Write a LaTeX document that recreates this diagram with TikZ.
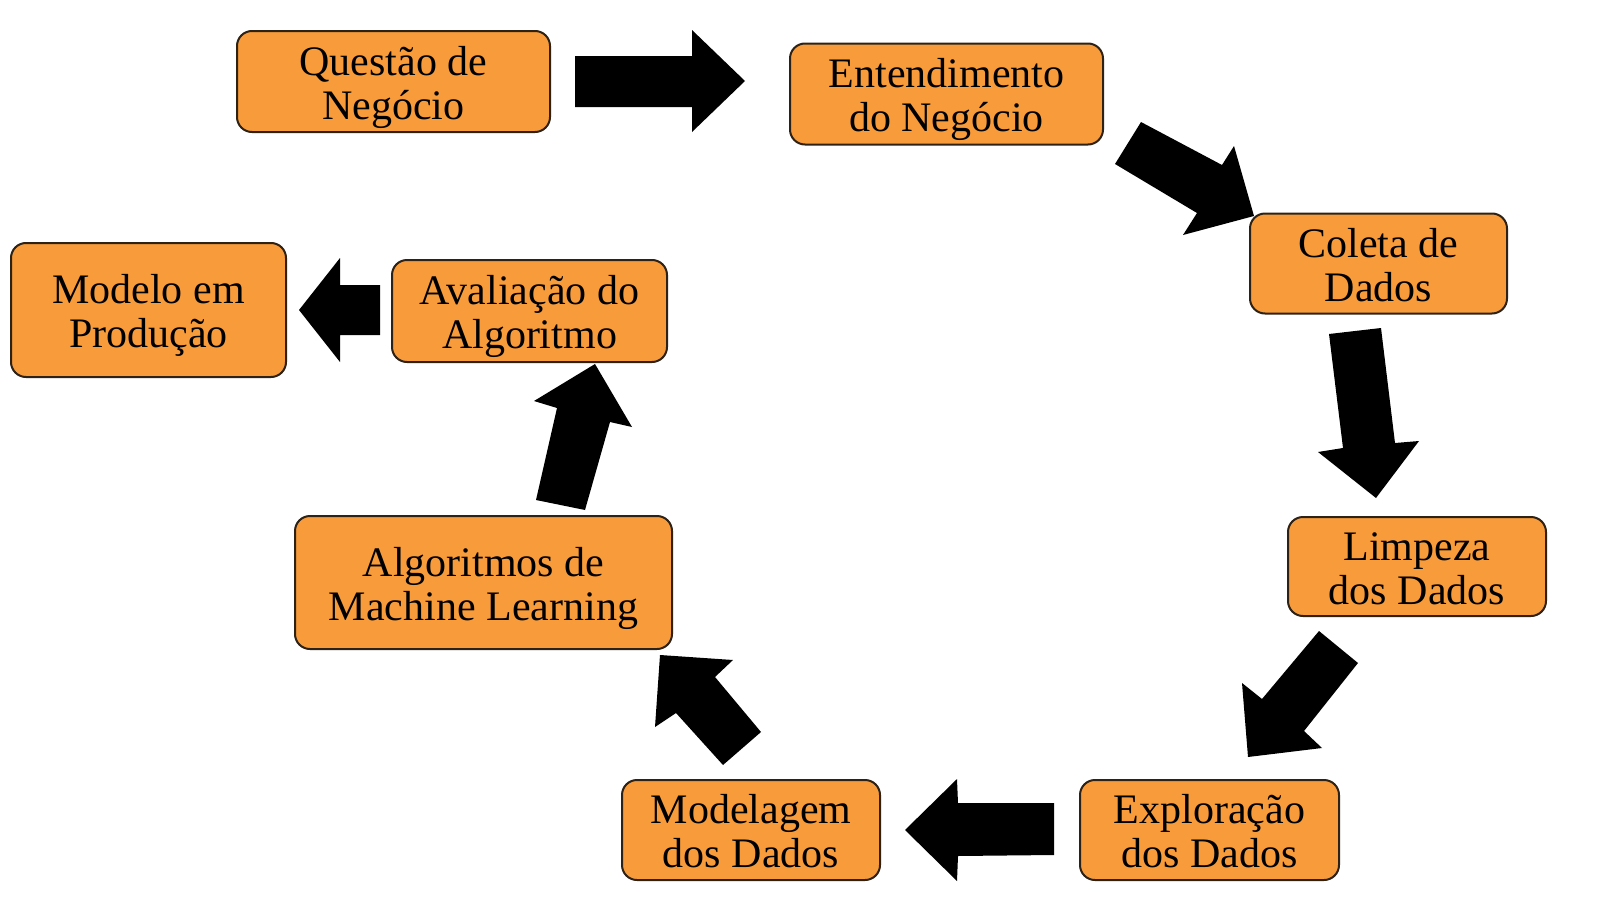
\documentclass[tikz,border=0pt]{standalone}
\usepackage{fontspec}
\setmainfont{Liberation Serif}
\definecolor{boxfill}{HTML}{F89B3B}
\definecolor{boxline}{HTML}{2E2216}
\newcommand{\ttop}{\rule{0pt}{41pt}}
\newcommand{\tbot}{\rule[-10pt]{0pt}{10pt}}
\begin{document}
\begin{tikzpicture}[x=1pt,y=-1pt,
  stepbox/.style={draw=boxline, fill=boxfill, line width=2pt, rounded corners=15pt,
    inner sep=0pt, align=center, font=\fontsize{42}{44}\selectfont},
  blockarrow/.style={fill=black, draw=none}]
\useasboundingbox[fill=white] (0,0) rectangle (1599,918);

\node[stepbox, minimum width=313pt, minimum height=101pt] (q) at (393.5,81.5) {\ttop Questão de\\Negócio\tbot};
\node[stepbox, minimum width=313pt, minimum height=101pt] (e) at (946.5,94) {\ttop Entendimento\\do Negócio\tbot};
\node[stepbox, minimum width=257pt, minimum height=100pt] (c) at (1378.5,263.5) {\ttop Coleta de\\Dados\tbot};
\node[stepbox, minimum width=258pt, minimum height=99pt] (l) at (1417,566.5) {\ttop Limpeza\\dos Dados\tbot};
\node[stepbox, minimum width=259pt, minimum height=100pt] (x) at (1209.5,830) {\ttop Exploração\\dos Dados\tbot};
\node[stepbox, minimum width=258pt, minimum height=100pt] (m) at (751,830) {\ttop Modelagem\\dos Dados\tbot};
\node[stepbox, minimum width=377pt, minimum height=133pt] (a) at (483.5,582.5) {\ttop Algoritmos de\\Machine Learning\tbot};
\node[stepbox, minimum width=275pt, minimum height=102pt] (v) at (529.5,311) {\ttop Avaliação do\\Algoritmo\tbot};
\node[stepbox, minimum width=275pt, minimum height=134pt] (p) at (148.5,310) {\ttop Modelo em\\Produção\tbot};

% q -> e
\fill[blockarrow] (575,56) -- (692,56) -- (692,30) -- (745,81) -- (692,132) -- (692,107) -- (575,107) -- cycle;
% e -> c
\fill[blockarrow] (1141,122) -- (1222,165) -- (1234,146) -- (1254,216) -- (1183,235) -- (1197,213) -- (1115,164) -- cycle;
% c -> l
\fill[blockarrow] (1329,334) -- (1381,328) -- (1395,443) -- (1419,441) -- (1376,498) -- (1318,452) -- (1343,448) -- cycle;
% l -> x
\fill[blockarrow] (1319,631) -- (1358,663) -- (1304,731) -- (1322,748) -- (1248,757) -- (1242,683) -- (1262,699) -- cycle;
% x -> m
\fill[blockarrow] (905,830) -- (957,779) -- (958,803) -- (1054,803) -- (1054,855) -- (958,856) -- (957,881) -- cycle;
% m -> a
\fill[blockarrow] (660,655) -- (733,660) -- (715,677) -- (761,732) -- (723,765) -- (676,713) -- (655,727) -- cycle;
% a -> v
\fill[blockarrow] (595,364) -- (632,427) -- (610,422) -- (585,510) -- (536,500) -- (557,408) -- (534,401) -- cycle;
% v -> p
\fill[blockarrow] (380,285) -- (340,285) -- (340,258) -- (299,310) -- (340,362) -- (340,335) -- (380,335) -- cycle;
\end{tikzpicture}
\end{document}
